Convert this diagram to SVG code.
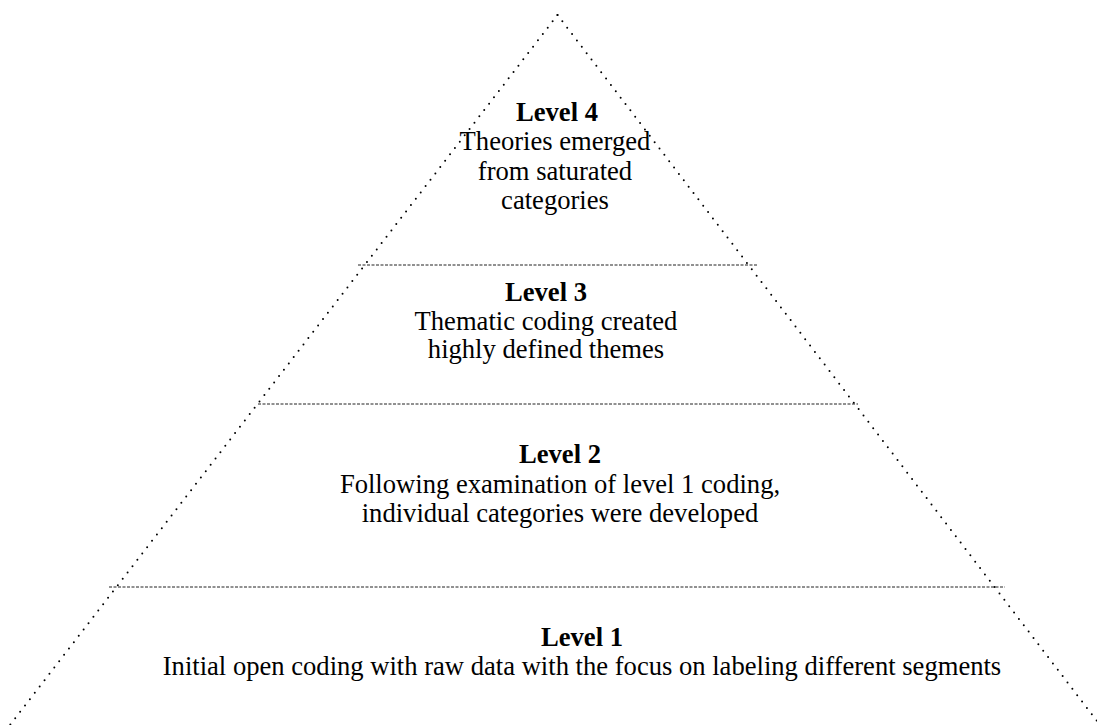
<svg xmlns="http://www.w3.org/2000/svg" width="1097" height="725" viewBox="0 0 1097 725">
<style>
.side{fill:none;stroke:#000;stroke-width:2;stroke-linecap:round;stroke-dasharray:0 8}
.div{stroke:#222;stroke-width:1;stroke-dasharray:3 1.5}
text{font-family:"Liberation Serif","Times New Roman",serif;font-size:26.6px;fill:#000;text-anchor:middle}
.h{font-weight:bold}
</style>
<rect width="1097" height="725" fill="#fff"/>
<g id="connectors">
<line class="side" x1="557.5" y1="15" x2="10" y2="725"/>
<line class="side" x1="557.5" y1="15" x2="1100" y2="725"/>
<line class="div" x1="358" y1="265" x2="757" y2="265"/>
<line class="div" x1="258" y1="404" x2="858" y2="404"/>
<line class="div" x1="109" y1="587" x2="1005" y2="587"/>
</g>
<g id="level4">
<text class="h" x="557" y="121">Level 4</text>
<text x="555" y="150">Theories emerged</text>
<text x="555" y="180">from saturated</text>
<text x="555" y="209">categories</text>
</g>
<g id="level3">
<text class="h" x="546" y="301">Level 3</text>
<text x="546" y="330">Thematic coding created</text>
<text x="546" y="358">highly defined themes</text>
</g>
<g id="level2">
<text class="h" x="560" y="463">Level 2</text>
<text x="560" y="493">Following examination of level 1 coding,</text>
<text x="560" y="522">individual categories were developed</text>
</g>
<g id="level1">
<text class="h" x="582" y="646">Level 1</text>
<text x="582" y="675">Initial open coding with raw data with the focus on labeling different segments</text>
</g>
</svg>
